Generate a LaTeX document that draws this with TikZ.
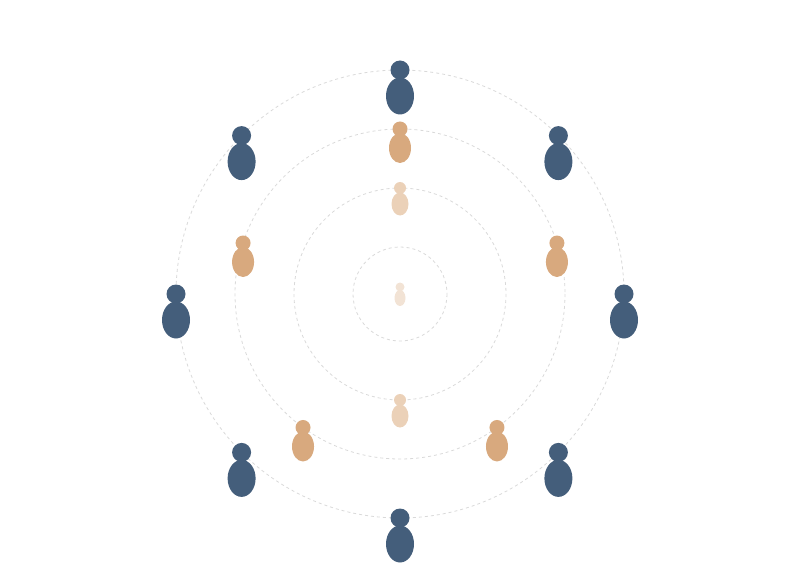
\documentclass[tikz,border=0pt]{standalone}
\begin{document}
\begin{tikzpicture}[x=1pt,y=-1pt,
 ring/.style={draw=black!15,dash pattern=on 3pt off 3pt,line width=0.8pt},
 navy/.style={fill=navyc},tan/.style={fill=tanc},lt/.style={fill=ltc},ct/.style={fill=ctc}]
\definecolor{navyc}{HTML}{445E7B}
\definecolor{tanc}{HTML}{D8A97E}
\definecolor{ltc}{HTML}{EBD1B8}
\definecolor{ctc}{HTML}{F2E3D5}
\useasboundingbox (0,0) rectangle (800,588);
\coordinate (c) at (400,294);
\foreach \r in {47,106,165,224} \draw[ring] (c) circle (\r);
\newcommand\person[7]{\fill[#1] (#2,#3) circle (#4); \fill[#1] (#2,#3+#7) ellipse (#5 and #6);}
\newcommand\ringpeople[8]{\foreach \a in {#2}{%
  \pgfmathsetmacro\px{400+#3*cos(\a)}\pgfmathsetmacro\py{294-#3*sin(\a)}%
  \person{#1}{\px}{\py}{#4}{#5}{#6}{#7}}}
\ringpeople{navy}{90,135,180,225,270,315,0,45}{224}{9.5}{14}{18.5}{26}{}
\ringpeople{tan}{90,162,234,306,18}{165}{7.5}{11}{15}{19}{}
\ringpeople{lt}{90,270}{106}{6}{8.5}{11.5}{16}{}
\person{ct}{400}{287}{4.5}{5.5}{8}{11}
\end{tikzpicture}
\end{document}
